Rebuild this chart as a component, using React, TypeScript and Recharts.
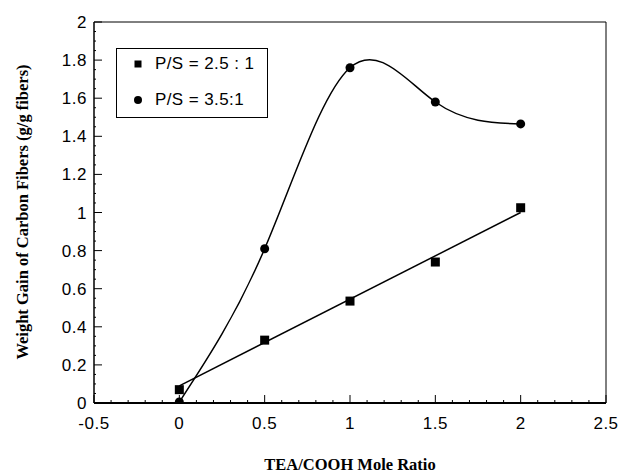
import React from 'react';
import {
  ComposedChart, Line, Scatter, XAxis, YAxis, ReferenceLine, Legend, Label,
} from 'recharts';

// TEA/COOH mole ratio for each sample
const ratio = [0, 0.5, 1, 1.5, 2];
// weight gain (g/g fibers), P/S = 2.5:1
const gainPS25 = [0.07, 0.33, 0.535, 0.74, 1.025];
// weight gain (g/g fibers), P/S = 3.5:1
const gainPS35 = [0.005, 0.81, 1.76, 1.58, 1.465];
// end points of the straight fit through the P/S = 2.5:1 data
const fitRatio = [0, 2];
const fitPS25 = [0.09, 1.0];

const xMajorTicks = [-0.5, 0, 0.5, 1, 1.5, 2, 2.5];
const yMajorTicks = [0, 0.2, 0.4, 0.6, 0.8, 1, 1.2, 1.4, 1.6, 1.8, 2];

const legendLabels = ['P/S = 2.5 : 1', 'P/S = 3.5:1'];

const r2 = (v: number) => Math.round(v * 100) / 100;

// minor ticks: 0.1 steps along x, 0.05 steps along y
const xTicks: number[] = [];
for (let i = 0; i <= 30; i++) xTicks.push(r2(-0.5 + i * 0.1));
const yTicks: number[] = [];
for (let i = 0; i <= 40; i++) yTicks.push(r2(i * 0.05));

const isMajor = (list: number[], v: number) => list.some((m) => Math.abs(m - v) < 1e-6);

const pts = (xs: number[], ys: number[]) => xs.map((x, i) => ({ x, y: ys[i] }));
const squares = pts(ratio, gainPS25);
const circles = pts(ratio, gainPS35);
const fitLine = pts(fitRatio, fitPS25);

const sans = 'Arial, "Liberation Sans", sans-serif';
const serif = '"Times New Roman", "Liberation Serif", serif';

function XTick(props: any) {
  const { x, y, payload } = props;
  const major = isMajor(xMajorTicks, payload.value);
  return (
    <g>
      <line x1={x} x2={x} y1={y} y2={y - (major ? 8 : 3)} stroke="#000" strokeWidth={1} />
      {major && (
        <text x={x} y={y + 26} textAnchor="middle" fontSize={17} fontFamily={sans} fill="#000" letterSpacing={0.5}>
          {String(payload.value)}
        </text>
      )}
    </g>
  );
}

function YTick(props: any) {
  const { x, y, payload } = props;
  const major = isMajor(yMajorTicks, payload.value);
  return (
    <g>
      <line x1={x} x2={x + (major ? 8 : 2)} y1={y} y2={y} stroke="#000" strokeWidth={1} />
      {major && (
        <text x={x - 7} y={y + 6} textAnchor="end" fontSize={17} fontFamily={sans} fill="#000" letterSpacing={0.5}>
          {String(payload.value)}
        </text>
      )}
    </g>
  );
}

const SquareDot = (props: any) => {
  const { cx, cy } = props;
  return <rect x={cx - 4.5} y={cy - 4.5} width={9} height={9} fill="#000" />;
};

function LegendBox() {
  const row = (top: number, marker: React.ReactNode, text: string) => (
    <div style={{ position: 'absolute', left: 0, top, height: 20, width: '100%' }}>
      <svg width={14} height={14} style={{ position: 'absolute', left: 14, top: 3 }}>{marker}</svg>
      <span style={{ position: 'absolute', left: 38, top: 0, lineHeight: '20px', fontSize: 17, fontFamily: sans, letterSpacing: 0.4, whiteSpace: 'nowrap', color: '#000' }}>
        {text}
      </span>
    </div>
  );
  return (
    <div style={{ position: 'relative', width: 150, height: 68, border: '1px solid #000', background: '#fff' }}>
      {row(5, <rect x={3.5} y={3.5} width={7} height={7} fill="#000" />, legendLabels[0])}
      {row(41, <circle cx={7} cy={7} r={4} fill="#000" />, legendLabels[1])}
    </div>
  );
}

export default function App() {
  return (
    <div>
      <style>{'body{margin:0;background:#fff}'}</style>
      <ComposedChart width={619} height={473} margin={{ top: 22, right: 13, bottom: 0, left: 0 }}>
        <XAxis
          type="number"
          dataKey="x"
          domain={[-0.5, 2.5]}
          ticks={xTicks}
          interval={0}
          tickSize={0}
          tickMargin={0}
          tick={<XTick />}
          height={70}
          axisLine={{ stroke: '#000', strokeWidth: 2 }}
          allowDataOverflow
        >
          <Label
            content={() => (
              <text x={350} y={470} textAnchor="middle" fontSize={16.5} fontWeight="bold" fontFamily={serif} fill="#000">
                TEA/COOH Mole Ratio
              </text>
            )}
          />
        </XAxis>
        <YAxis
          type="number"
          dataKey="y"
          domain={[0, 2]}
          ticks={yTicks}
          interval={0}
          tickSize={0}
          tickMargin={0}
          tick={<YTick />}
          width={94}
          axisLine={{ stroke: '#000', strokeWidth: 1.5 }}
          allowDataOverflow
        >
          <Label
            content={() => (
              <text
                x={28}
                y={212}
                transform="rotate(-90 28 212)"
                textAnchor="middle"
                fontSize={16.5}
                fontWeight="bold"
                fontFamily={serif}
                fill="#000"
              >
                Weight Gain of Carbon Fibers (g/g fibers)
              </text>
            )}
          />
        </YAxis>
        <ReferenceLine y={2} stroke="#000" strokeWidth={1} />
        <ReferenceLine x={2.5} stroke="#000" strokeWidth={1} />
        <Legend
          layout="vertical"
          align="center"
          verticalAlign="middle"
          wrapperStyle={{ left: 116, top: 48, width: 152, height: 70 }}
          content={() => <LegendBox />}
        />
        <Line
          data={fitLine}
          dataKey="y"
          type="linear"
          stroke="#000"
          strokeWidth={1.5}
          dot={false}
          activeDot={false}
          legendType="none"
          isAnimationActive={false}
        />
        <Line
          data={circles}
          dataKey="y"
          name="P/S = 3.5:1"
          type="natural"
          stroke="#000"
          strokeWidth={1.5}
          dot={{ r: 4.5, fill: '#000', stroke: 'none' }}
          activeDot={false}
          isAnimationActive={false}
        />
        <Scatter
          data={squares}
          dataKey="y"
          name="P/S = 2.5 : 1"
          fill="#000"
          shape={<SquareDot />}
          isAnimationActive={false}
        />
      </ComposedChart>
    </div>
  );
}
